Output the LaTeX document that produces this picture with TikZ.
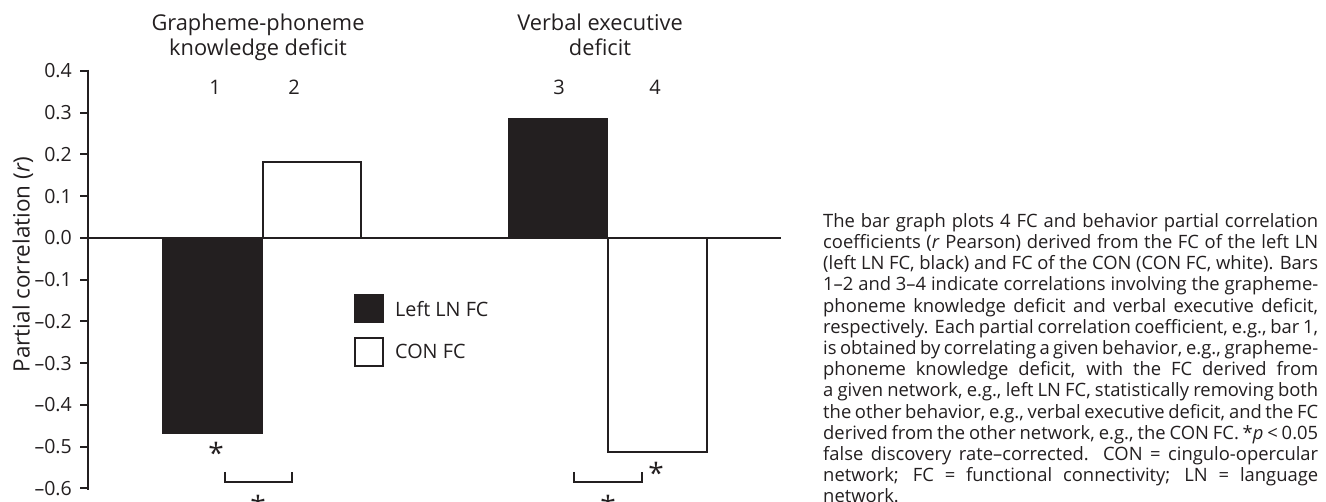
\documentclass[tikz,border=0pt]{standalone}
\usepackage{fontspec}
\setmainfont{Open Sans}
\definecolor{ink}{HTML}{231F20}
\begin{document}
\begin{tikzpicture}[x=1pt,y=-1pt,
  every node/.style={text=ink, inner sep=0pt},
  ticklbl/.style={anchor=east, font=\fontsize{19.5}{22}\selectfont},
  barnum/.style={anchor=base, font=\fontsize{20}{22}\selectfont},
  titlelbl/.style={anchor=base, align=center, font=\fontsize{21.8}{25}\selectfont},
  starlbl/.style={anchor=base, font=\fontsize{28}{30}\selectfont},
  openbar/.style={draw=ink, line width=2pt, fill=white},
  bracketline/.style={draw=ink, line width=2.7pt},
  legtxt/.style={anchor=base west, font=\fontsize{19.8}{22}\selectfont},
  axisline/.style={draw=ink, line width=2.4pt},
]
\useasboundingbox (0,0) rectangle (1326,502);
\fill[white] (0,0) rectangle (1326,502);
% bars
\fill[ink] (162,238) rectangle (263,434);
\draw[openbar] (263,162) rectangle (361,238);
\fill[ink] (508,118) rectangle (608,238);
\draw[openbar] (608,238) rectangle (707,452);
% axis
\draw[axisline] (88,70) -- (88,489.7);
\foreach \lab [count=\i from 0] in {0.4,0.3,0.2,0.1,0.0,–0.1,–0.2,–0.3,–0.4,–0.5,–0.6}{
  \draw[ink, line width=2pt] (80,{71+\i*41.75}) -- (88,{71+\i*41.75});
  \node[ticklbl] (t\i) at (72,{71+\i*41.75}) {\lab};
}
\draw[ink, line width=2pt] (88,238) -- (781,238);
% y label
\node[rotate=90, anchor=base, font=\fontsize{22.5}{24}\selectfont] (ylab) at (29.5,264.5) {Partial correlation (\textit{r})};
% titles (base = baseline of last line)
\node[titlelbl] (ttl1) at (258,56) {Grapheme-phoneme\\knowledge deficit};
\node[titlelbl] (ttl2) at (600,56) {Verbal executive\\deficit};
% bar numbers
\node[barnum] (n1) at (215,95) {1};
\node[barnum] (n2) at (294,95) {2};
\node[barnum] (n3) at (559,95) {3};
\node[barnum] (n4) at (655,95) {4};
% legend
\fill[ink] (354,294) rectangle (384,323.5);
\draw[ink, line width=2pt] (355,338) rectangle (383,366);
\node[legtxt] (leg1) at (395,316.7) {Left LN FC};
\node[legtxt] (leg2) at (395,358.3) {CON FC};
% significance
\draw[bracketline] (225,472) -- (225,482) -- (292,482) -- (292,472);
\draw[bracketline] (574,472) -- (574,482) -- (642,482) -- (642,472);
\node[starlbl] (s1) at (216,464) {*};
\node[starlbl] (s4) at (656,483) {*};
\node[starlbl] (s12) at (258,516) {*};
\node[starlbl] (s34) at (608,516) {*};
% caption (base = baseline of last line)
\node[anchor=base west, align=left, font=\fontsize{18.4}{21.2}\selectfont] (cap) at (823,502.9) {%
\makebox[495pt][s]{The bar graph plots 4 FC and behavior partial correlation}\\
\makebox[495pt][s]{coefficients (\textit{r} Pearson) derived from the FC of the left LN}\\
\makebox[495pt][s]{(left LN FC, black) and FC of the CON (CON FC, white). Bars}\\
\makebox[495pt][s]{1–2 and 3–4 indicate correlations involving the grapheme-}\\
\makebox[495pt][s]{phoneme knowledge deficit and verbal executive deficit,}\\
\makebox[495pt][s]{respectively. Each partial correlation coefficient, e.g., bar 1,}\\
\makebox[495pt][s]{is obtained by correlating a given behavior, e.g., grapheme-}\\
\makebox[495pt][s]{phoneme knowledge deficit, with the FC derived from}\\
\makebox[495pt][s]{a given network, e.g., left LN FC, statistically removing both}\\
\makebox[495pt][s]{the other behavior, e.g., verbal executive deficit, and the FC}\\
\makebox[495pt][s]{derived from the other network, e.g., the CON FC. *\textit{p} < 0.05}\\
\makebox[495pt][s]{false discovery rate–corrected. CON = cingulo-opercular}\\
\makebox[495pt][s]{network; FC = functional connectivity; LN = language}\\
network.};
\end{tikzpicture}
\end{document}
